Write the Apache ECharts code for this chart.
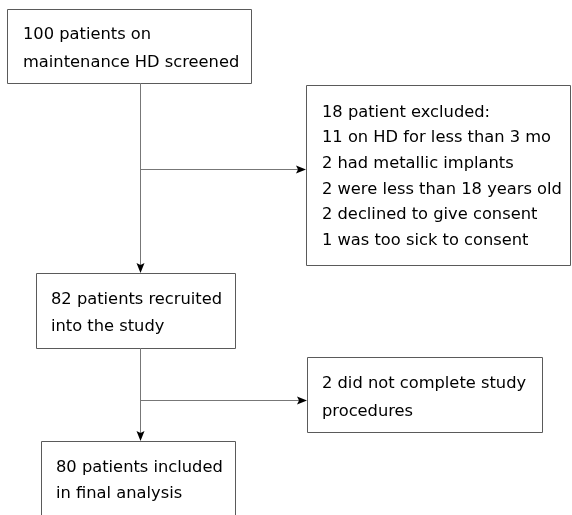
<!DOCTYPE html>
<html>
<head>
<meta charset="utf-8">
<script src="https://cdn.jsdelivr.net/npm/echarts@6/dist/echarts.min.js"></script>
<style>
  html, body { margin: 0; padding: 0; background: #fff; }
  #chart { width: 572px; height: 515px; }
</style>
</head>
<body>
<div id="chart"></div>
<script>
// box texts
const screened = ['100 patients on', 'maintenance HD screened']
const excluded = [
  '18 patient excluded:',
  '11 on HD for less than 3 mo',
  '2 had metallic implants',
  '2 were less than 18 years old',
  '2 declined to give consent',
  '1 was too sick to consent'
]
const recruited = ['82 patients recruited', 'into the study']
const dropped = ['2 did not complete study', 'procedures']
const included = ['80 patients included', 'in final analysis']

// layout: [left, top, right, bottom, textLeft, firstLineCenter, lineHeight]
const layout = [
  [7, 9, 251, 83, 23, 34, 28],
  [306, 85, 570, 265, 322, 112, 25.6],
  [36, 273, 235, 348, 51, 299, 27],
  [307, 357, 542, 432, 322, 383, 28],
  [41, 441, 235, 530, 56, 467, 26]
]
const boxes = [screened, excluded, recruited, dropped, included]

const spineX = 140
// connectors: [x1, y1, x2, y2]
const links = [
  [spineX, 83, spineX, 273],
  [spineX, 169, 306, 169],
  [spineX, 348, spineX, 441],
  [spineX, 400, 307, 400]
]

const elements = []
boxes.forEach((lines, i) => {
  const [l, t, r, b, tx, c, lh] = layout[i]
  elements.push({
    type: 'rect',
    shape: { x: l + 0.5, y: t + 0.5, width: r - l, height: b - t },
    style: { fill: '#fff', stroke: '#5a5a5a', lineWidth: 1 }
  })
  elements.push({
    type: 'text',
    style: {
      text: lines.join('\n'),
      x: tx,
      y: c - lh / 2 + 0.5,
      font: '16.3px "DejaVu Sans", Verdana, sans-serif',
      lineHeight: lh,
      fill: '#000',
      verticalAlign: 'top'
    }
  })
})

links.forEach(([x1, y1, x2, y2]) => {
  const vertical = x1 === x2
  elements.push({
    type: 'line',
    shape: vertical
      ? { x1: x1 + 0.5, y1: y1, x2: x2 + 0.5, y2: y2 - 6 }
      : { x1: x1, y1: y1 + 0.5, x2: x2 - 6, y2: y2 + 0.5 },
    style: { stroke: '#777', lineWidth: 1 }
  })
  const head = vertical
    ? [[x2 - 3.5, y2 - 10], [x2 + 0.5, y2 - 8], [x2 + 4.5, y2 - 10], [x2 + 0.5, y2]]
    : [[x2 - 10, y2 - 3.5], [x2 - 8, y2 + 0.5], [x2 - 10, y2 + 4.5], [x2, y2 + 0.5]]
  elements.push({
    type: 'polygon',
    shape: { points: head },
    style: { fill: '#000' }
  })
})

const chart = echarts.init(document.getElementById('chart'))
chart.setOption({
  backgroundColor: '#fff',
  animation: false,
  graphic: { elements: elements }
})
</script>
</body>
</html>
